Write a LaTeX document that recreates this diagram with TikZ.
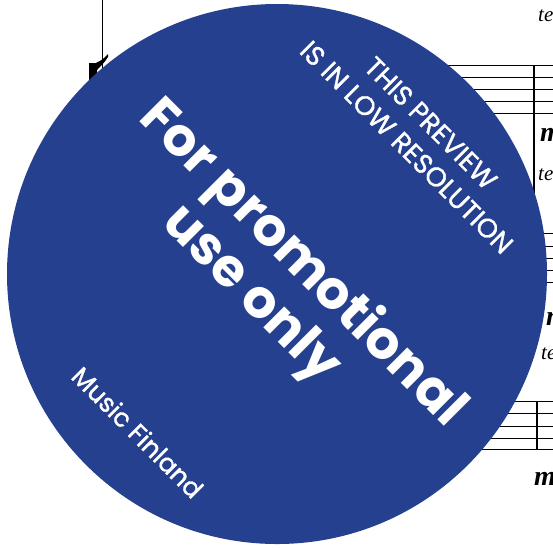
\documentclass[tikz,border=0pt]{standalone}
\usepackage{fontspec}
\usepackage{graphicx}
\newfontfamily\pop{Poppins}
\newfontfamily\popm[FakeBold=1.2]{Poppins}
\newfontfamily\scorefont{Liberation Serif}
\definecolor{stamp}{RGB}{37,64,142}
\begin{document}
\begin{tikzpicture}[x=1pt,y=-1pt,
  staff/.style={black, line width=0.9pt},
  barline/.style={black, line width=1.1pt},
  score/.style={inner sep=0, anchor=base west, font=\scorefont\fontsize{21}{21}\selectfont\itshape},
  dyn/.style={inner sep=0, anchor=base west, font=\scorefont\fontsize{28}{28}\selectfont\bfseries\itshape},
  bigtxt/.style={white, inner sep=0, anchor=base, rotate=-45, font=\pop\fontsize{53}{53}\selectfont\bfseries},
  smalltxt/.style={white, inner sep=0, anchor=base, rotate=-45, font=\popm\fontsize{27}{27}\selectfont}]
\useasboundingbox (0,0) rectangle (553,547);
\clip (0,0) rectangle (553,547);
% --- score in the background ---
\draw[black, line width=0.8pt] (102,0) -- (102,70);
\fill[black] (89,63) -- (96,63) .. controls (100,61) and (104,59) .. (108,54)
  -- (108,57) .. controls (105,62) and (101,66) .. (97,70) -- (97,110) -- (89,110) -- cycle;
\foreach \y in {65,77,89,101,113} \draw[staff] (415,\y) -- (553,\y);
\draw[barline] (534,65) -- (534,200);
\foreach \y in {233,246,258,270,282} \draw[staff] (480,\y) -- (553,\y);
\foreach \y in {401,413,426,438,449} \draw[staff] (440,\y) -- (553,\y);
\draw[barline] (537,401) -- (537,449);
\node[score] (t1) at (538,21) {te};
\node[score] (t2) at (538,180) {te};
\node[score] (t3) at (541,359) {te};
\node[dyn] (d1) at (540,141) {mf};
\node[dyn] (d2) at (546,325) {mf};
\node[dyn] (d3) at (534,485) {mf};
% --- stamp ---
\fill[stamp] (277,274) circle[radius=270pt];
\node[bigtxt] (l1) at (292,274) {For promotional};
\node[bigtxt] (l2) at (241,305) {use only};
\node[smalltxt] (p1) at (424,130) {THIS PREVIEW};
\node[smalltxt] (p2) at (400,154) {IS IN LOW RESOLUTION};
\node[smalltxt, font=\popm\fontsize{25.5}{25.5}\selectfont] (mf) at (131,439) {Music Finland};
\end{tikzpicture}
\end{document}
